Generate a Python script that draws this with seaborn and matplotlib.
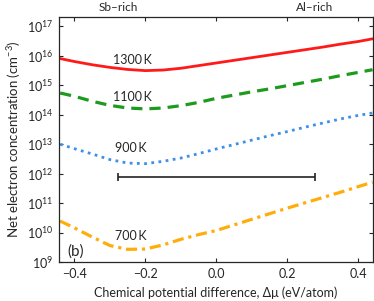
import numpy as np
import pandas as pd
import seaborn as sns
import matplotlib.pyplot as plt

# chemical potential difference (eV/atom)
dmu = [-0.44, -0.40, -0.35, -0.30, -0.25, -0.20, -0.15, -0.10, -0.05, 0.00,
       0.05, 0.10, 0.15, 0.20, 0.25, 0.30, 0.35, 0.40, 0.44]

# log10 of net electron concentration (cm^-3)
log_n_1300 = [15.91, 15.81, 15.70, 15.61, 15.54, 15.50, 15.52, 15.58, 15.67, 15.76,
              15.85, 15.94, 16.03, 16.12, 16.21, 16.30, 16.40, 16.49, 16.58]
log_n_1100 = [14.74, 14.63, 14.46, 14.32, 14.23, 14.20, 14.23, 14.31, 14.42, 14.56,
              14.67, 14.78, 14.88, 14.99, 15.10, 15.21, 15.33, 15.44, 15.53]
log_n_900 = [13.00, 12.85, 12.67, 12.48, 12.36, 12.34, 12.42, 12.53, 12.68, 12.84,
             12.99, 13.14, 13.29, 13.43, 13.58, 13.72, 13.86, 13.98, 14.06]
log_n_700 = [10.39, 10.16, 9.85, 9.56, 9.43, 9.44, 9.58, 9.77, 9.93, 10.07,
             10.26, 10.45, 10.64, 10.83, 11.01, 11.19, 11.37, 11.56, 11.71]

temps = ["1300 K", "1100 K", "900 K", "700 K"]
label_x = [-0.235, -0.235, -0.24, -0.24]
label_y = [7.4e15, 4.1e14, 7.6e12, 7.6e9]

# range bar
bar_center = 0.0
bar_halfwidth = 0.277
bar_level = 8e11

series = {"1300 K": log_n_1300, "1100 K": log_n_1100,
          "900 K": log_n_900, "700 K": log_n_700}
rows = []
for t, vals in series.items():
    for x, v in zip(dmu, vals):
        rows.append({"dmu": x, "n": 10 ** v, "T": t})
df = pd.DataFrame(rows)

sns.set_style("ticks")
plt.rcParams['font.family'] = ['Lato', 'DejaVu Sans']
plt.rcParams['mathtext.fontset'] = 'custom'
plt.rcParams['mathtext.rm'] = 'Lato'
plt.rcParams['mathtext.it'] = 'Lato:italic'

fig = plt.figure(figsize=(3.74, 3.01), dpi=100)
ax = fig.add_axes([0.158, 0.1296, 0.839, 0.814])

styles = {"1300 K": ("#ff1a1a", "-", 2.0),
          "1100 K": ("#1e9a1e", (0, (3.5, 2.2)), 2.3),
          "900 K": ("#3d8fe8", (0, (1, 1.6)), 2.0),
          "700 K": ("#ffad0a", (0, (3.5, 1.5, 1, 1.5)), 2.3)}

for t in temps:
    c, ls, lw = styles[t]
    sns.lineplot(data=df[df["T"] == t], x="dmu", y="n", ax=ax, color=c,
                 linestyle=ls, linewidth=lw, legend=False)

for t, x, y in zip(temps, label_x, label_y):
    ax.text(x, y, t.replace(" ", "\u2009"), fontsize=9, ha="center", va="center")

ax.errorbar([bar_center], [bar_level], xerr=[bar_halfwidth], color="#222222",
            linewidth=1.2, capsize=3, capthick=1.2)

ax.set_yscale("log")
ax.set_xlim(-0.443, 0.441)
ax.set_ylim(1e9, 2.1e17)
ax.set_yticks([10.0 ** k for k in range(9, 18)])
ax.minorticks_off()
ax.set_xticks([-0.4, -0.2, 0.0, 0.2, 0.4])
ax.set_xticklabels(["\u22120.4", "\u22120.2", "0.0", "0.2", "0.4"])
ax.tick_params(direction="in", length=3, width=0.8, top=True, right=True,
               labelsize=9, pad=4)
for s in ax.spines.values():
    s.set_linewidth(0.9)

ax.set_xlabel("Chemical potential difference, \u0394\u03bc (eV/atom)", fontsize=9, labelpad=5)
ax.set_ylabel("Net electron concentration (cm$^{-3}$)", fontsize=9.5, labelpad=3)

for x, s in [(-bar_halfwidth, "Sb\u2013rich"), (bar_halfwidth, "Al\u2013rich")]:
    ax.annotate(s, xy=(x, 1.0), xycoords=("data", "axes fraction"),
                xytext=(0, 4.5), textcoords="offset points",
                ha="center", va="baseline", fontsize=8.5, annotation_clip=False)
ax.text(-0.42, 2.3e9, "(b)", fontsize=11, ha="left", va="center")

fig.savefig("out.png", dpi=100)
